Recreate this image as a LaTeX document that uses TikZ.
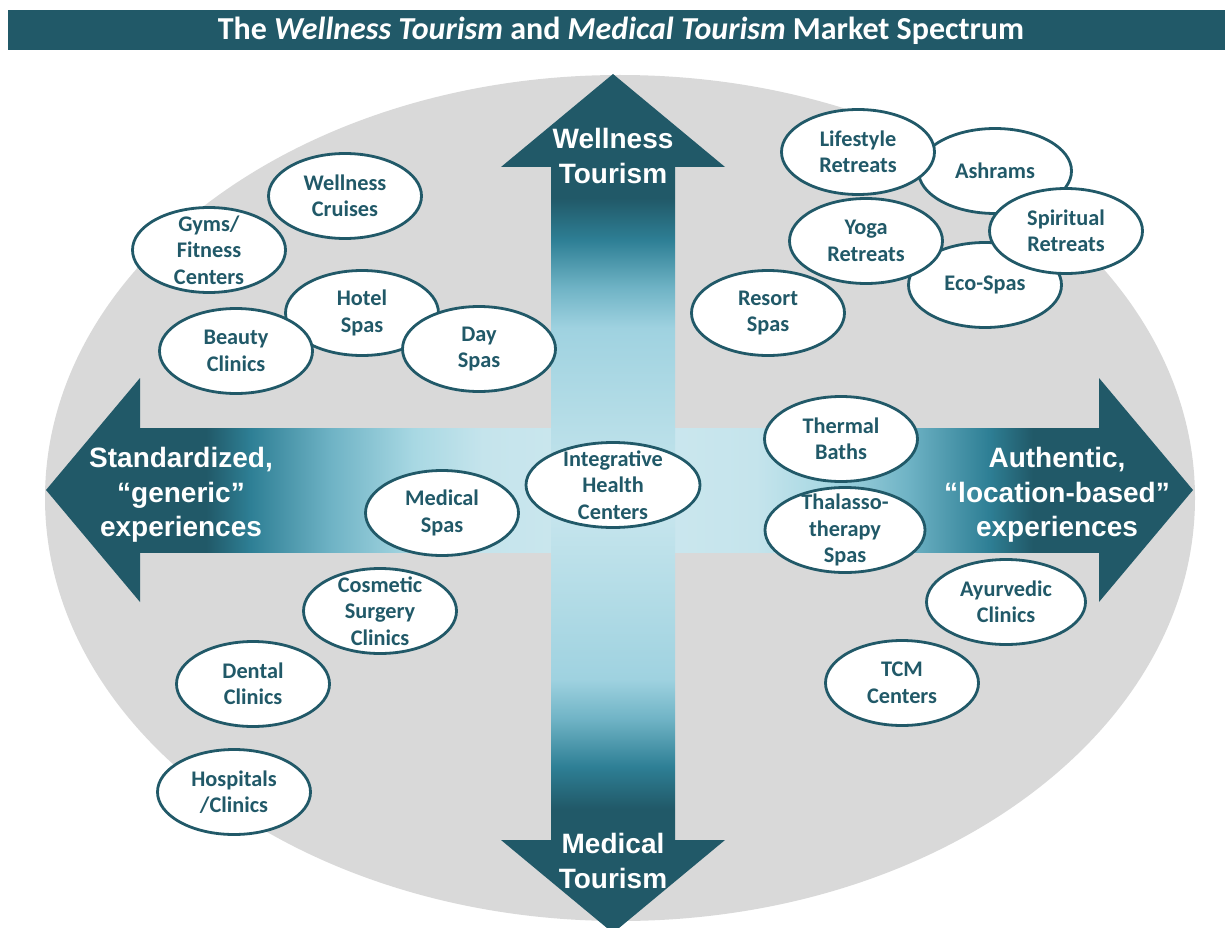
\documentclass[tikz,border=0pt]{standalone}
\usepackage{fontspec}
\setmainfont{Carlito}
\newfontfamily\arialfont{Liberation Sans}
\usetikzlibrary{shapes.geometric}
\definecolor{dk}{HTML}{215968}
\definecolor{midt}{HTML}{2E7F95}
\definecolor{ca}{HTML}{6FB3C5}
\definecolor{cb}{HTML}{A8D8E3}
\definecolor{cc}{HTML}{C5E4EC}
\definecolor{cd}{HTML}{CDE8EF}
\definecolor{cvd}{HTML}{9FD2E0}
\definecolor{cve}{HTML}{B5DDE7}
\definecolor{cvf}{HTML}{C8E6EE}
\definecolor{ellgrey}{HTML}{D9D9D9}
\pgfdeclareverticalshading{vshade}{100bp}{color(0bp)=(dk); color(25bp)=(dk); color(27.4bp)=(dk); color(30.5bp)=(midt); color(34bp)=(ca); color(37bp)=(cvd); color(43.8bp)=(cve); color(50bp)=(cvf); color(56.2bp)=(cve); color(63bp)=(cvd); color(66bp)=(ca); color(69.5bp)=(midt); color(72.6bp)=(dk); color(75bp)=(dk); color(100bp)=(dk)}
\pgfdeclarehorizontalshading{hshade}{100bp}{color(0bp)=(dk); color(25bp)=(dk); color(28.5bp)=(dk); color(30.8bp)=(midt); color(35bp)=(ca); color(39.3bp)=(cb); color(42.9bp)=(cc); color(50bp)=(cd); color(57.1bp)=(cc); color(60.7bp)=(cb); color(65bp)=(ca); color(69.2bp)=(midt); color(71.5bp)=(dk); color(75bp)=(dk); color(100bp)=(dk)}
\tikzset{
  bubble/.style={ellipse, draw=dk, line width=2.8pt, fill=white, minimum width=153pt, minimum height=85pt, inner sep=0pt},
  btext/.style={font=\fontsize{22.3}{26.5}\selectfont\bfseries, text=dk, align=center, inner sep=0pt},
  alab/.style={font=\arialfont\fontsize{28}{34.5}\selectfont\bfseries, text=white, align=center, inner sep=0pt},
}
\newcommand\bub[5][]{\node[bubble,#1,label={[btext]center:{#5}}] (#2) at (#3,#4) {};}
\begin{document}
\begin{tikzpicture}[x=1pt,y=-1pt]
\useasboundingbox (0,0) rectangle (1225,928);
\clip (0,0) rectangle (1225,928);
% title
\fill[dk] (8,10) rectangle (1230,50);
\node[font=\fontsize{32}{36}\selectfont\bfseries, text=white, inner sep=0pt] (title) at (621,31) {The \textit{Wellness Tourism} and \textit{Medical Tourism} Market Spectrum};
% background ellipse
\fill[ellgrey] (620,498) ellipse [x radius=575, y radius=423];
% horizontal arrow
\fill[dk] (46,490) -- (140,378) -- (140,602) -- cycle;
\fill[dk] (1193,490) -- (1099,378) -- (1099,602) -- cycle;
\shade[shading=hshade] (139,428) rectangle (1100,552);
% vertical arrow
\fill[dk] (613,74) -- (501,167) -- (725,167) -- cycle;
\fill[dk] (613,933) -- (501,840) -- (725,840) -- cycle;
\shade[shading=vshade] (551,166) rectangle (675,841);
% arrow labels
\node[alab] (wt) at (613,156) {Wellness\\Tourism};
\node[alab] (mt) at (613,861) {Medical\\Tourism};
\node[alab] (std) at (181,495) {Standardized,\\“generic”\\experiences};
\node[alab] (auth) at (1057,495) {Authentic,\\“location-based”\\experiences};
% bubbles upper left
\bub{cruises}{345}{196}{Wellness\\Cruises}
\bub{gyms}{209}{250}{Gyms/\\Fitness\\Centers}
\bub{hotel}{362}{313}{Hotel\\Spas}
\bub{beauty}{236}{351}{Beauty\\Clinics}
\bub{day}{479}{349}{Day\\Spas}
% bubbles upper right
\bub{ashrams}{995}{171}{Ashrams}
\bub{eco}{985}{285}{Eco-Spas}
\bub{lifestyle}{858}{152}{Lifestyle\\Retreats}
\bub{yoga}{866}{241}{Yoga\\Retreats}
\bub{spiritual}{1066}{231}{Spiritual\\Retreats}
\bub{resort}{768}{313}{Resort\\Spas}
% centre / right
\bub[minimum width=174pt]{integ}{613}{485}{Integrative\\Health\\Centers}
\bub{thermal}{841}{439}{Thermal\\Baths}
\bub[minimum width=160pt]{thalasso}{845}{530}{Thalasso-\\therapy\\Spas}
\bub[minimum width=159pt]{ayur}{1006}{602}{Ayurvedic\\Clinics}
\bub{tcm}{902}{683}{TCM\\Centers}
% lower left
\bub{medspa}{442}{513}{Medical\\Spas}
\bub{cosmetic}{380}{611}{Cosmetic\\Surgery\\Clinics}
\bub{dental}{253}{684}{Dental\\Clinics}
\bub{hosp}{234}{792}{Hospitals\\/Clinics}
\end{tikzpicture}
\end{document}
